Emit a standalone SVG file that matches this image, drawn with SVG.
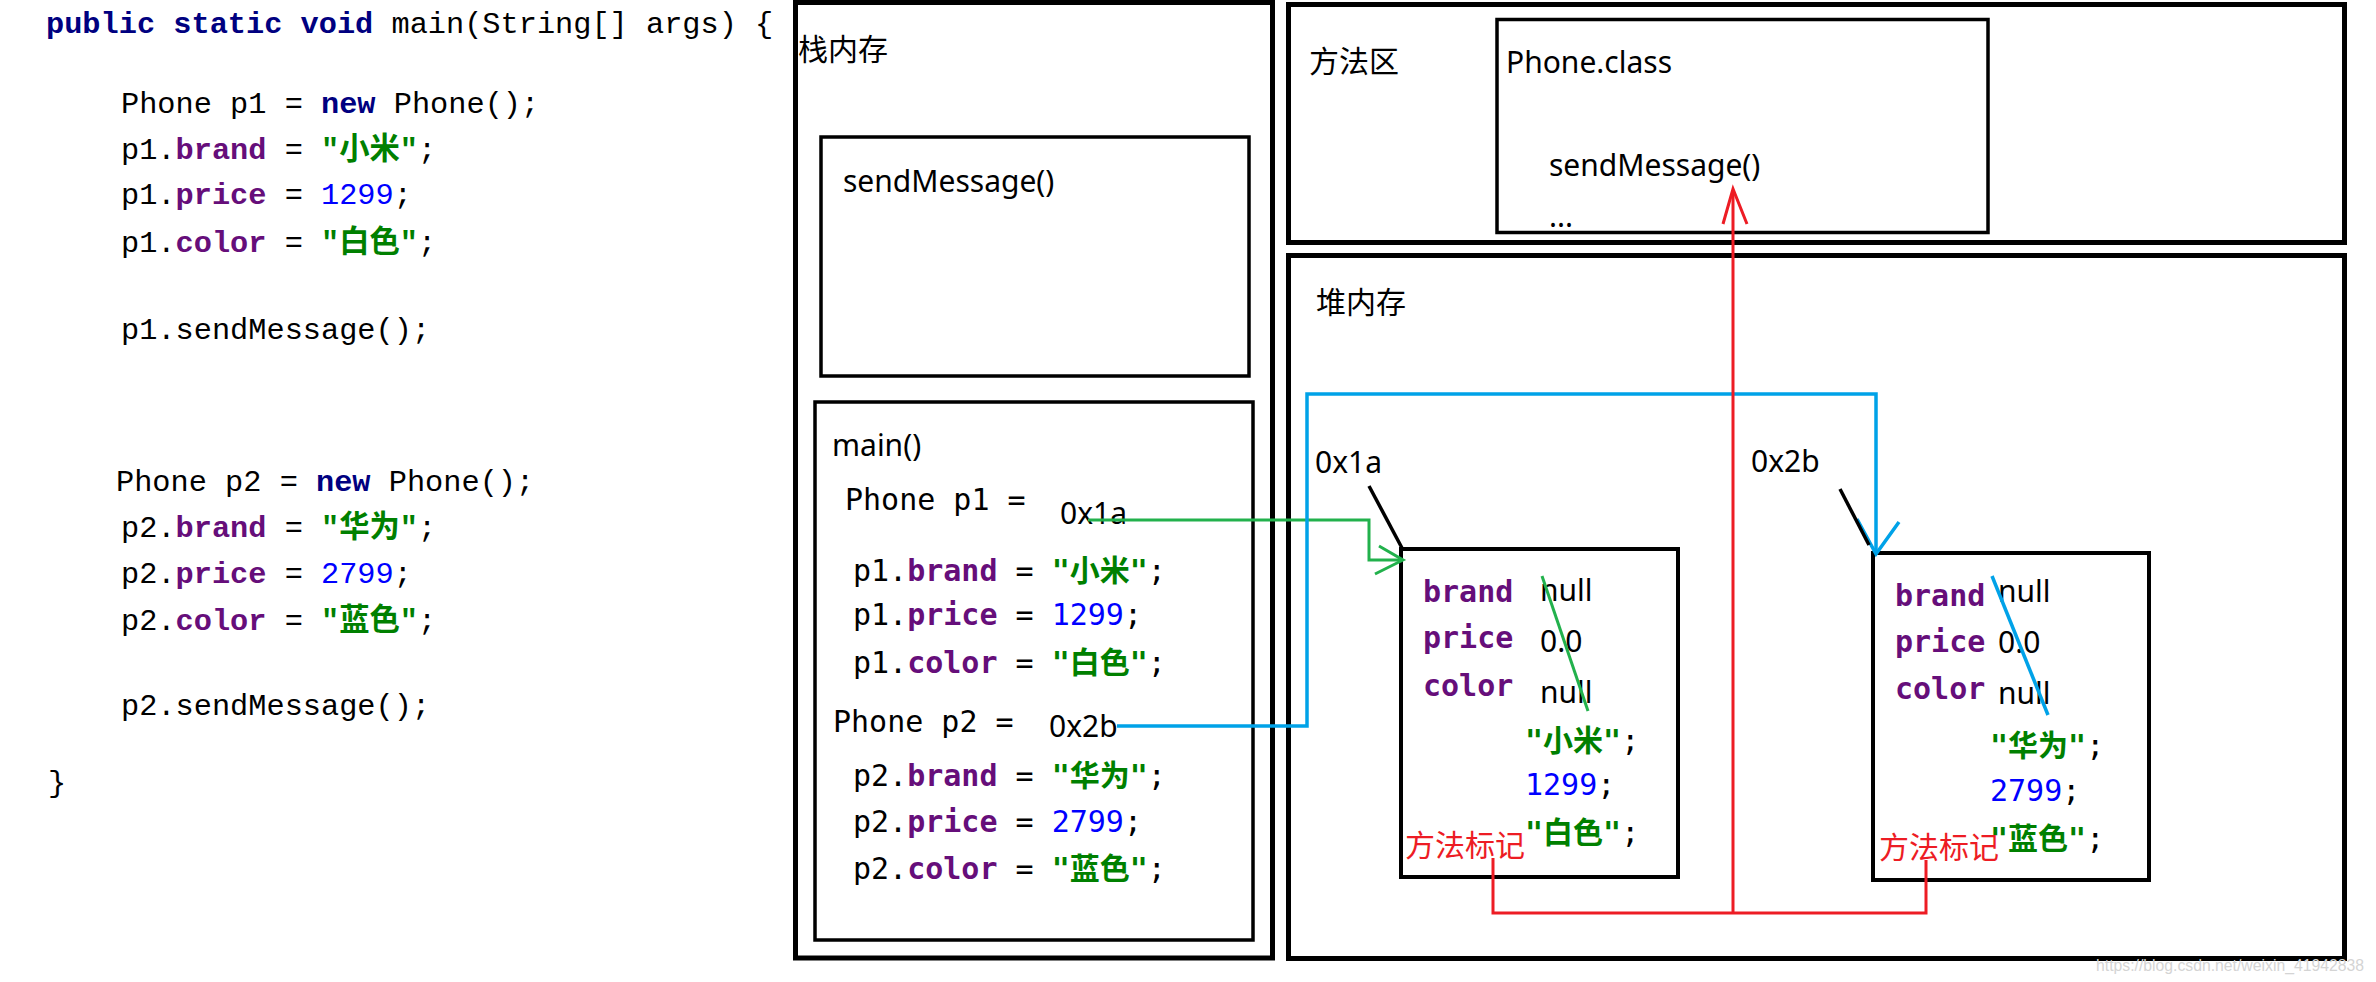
<svg xmlns="http://www.w3.org/2000/svg" width="2376" height="982" viewBox="0 0 2376 982">
<style>
.sans{font-family:"Noto Sans","Noto Sans CJK SC",sans-serif;font-size:30px;fill:#000}
.cjk{font-family:"Noto Sans CJK SC",sans-serif;font-size:30px;fill:#000}
.code{font-family:"Liberation Mono","Noto Sans CJK SC",monospace;font-size:30.3px;fill:#000}
.mono{font-family:"DejaVu Sans Mono","Noto Sans CJK SC",monospace;font-size:30px;fill:#000}
.kw{fill:#000080;font-weight:bold}
.fld{fill:#660E7A;font-weight:bold}
.str{fill:#008000;font-weight:bold}
.num{fill:#0000FF}
.red{fill:#ED1C24}
.frame{fill:none;stroke:#000;stroke-width:5}
.box{fill:none;stroke:#000;stroke-width:3.5}
.obj{fill:none;stroke:#000;stroke-width:4}
.g{fill:none;stroke:#22B14C;stroke-width:3}
.b{fill:none;stroke:#00A2E8;stroke-width:3.5}
.r{fill:none;stroke:#ED1C24;stroke-width:3}
.k{fill:none;stroke:#000;stroke-width:3.5}
</style>
<rect width="2376" height="982" fill="#fff"/>

<g id="code" xml:space="preserve">
<text class="code" x="46" y="33"><tspan class="kw">public static void</tspan> main(String[] args) {</text>
<text class="code" x="121" y="113">Phone p1 = <tspan class="kw">new</tspan> Phone();</text>
<text class="code" x="121" y="159">p1.<tspan class="fld">brand</tspan> = <tspan class="str">"小米"</tspan>;</text>
<text class="code" x="121" y="204">p1.<tspan class="fld">price</tspan> = <tspan class="num">1299</tspan>;</text>
<text class="code" x="121" y="252">p1.<tspan class="fld">color</tspan> = <tspan class="str">"白色"</tspan>;</text>
<text class="code" x="121" y="339">p1.sendMessage();</text>
<text class="code" x="116" y="491">Phone p2 = <tspan class="kw">new</tspan> Phone();</text>
<text class="code" x="121" y="537">p2.<tspan class="fld">brand</tspan> = <tspan class="str">"华为"</tspan>;</text>
<text class="code" x="121" y="583">p2.<tspan class="fld">price</tspan> = <tspan class="num">2799</tspan>;</text>
<text class="code" x="121" y="630">p2.<tspan class="fld">color</tspan> = <tspan class="str">"蓝色"</tspan>;</text>
<text class="code" x="121" y="715">p2.sendMessage();</text>
<text class="code" x="48" y="792">}</text>
</g>

<g id="stack">
<rect class="frame" x="795.5" y="2.5" width="477" height="955.5"/>
<text class="cjk" x="798" y="60">栈内存</text>
</g>

<g id="send-frame">
<rect class="box" x="821" y="137" width="428" height="239"/>
<text class="sans" x="843" y="192" font-size="31">sendMessage()</text>
</g>

<g id="main-frame" xml:space="preserve">
<rect class="box" x="815" y="402" width="438" height="538"/>
<text class="sans" x="832" y="456" font-size="31">main()</text>
<text class="mono" x="845" y="510">Phone p1 =</text>
<text class="sans" x="1060" y="524">0x1a</text>
<text class="mono" x="853" y="581">p1.<tspan class="fld">brand</tspan> = <tspan class="str">"小米"</tspan>;</text>
<text class="mono" x="853" y="625">p1.<tspan class="fld">price</tspan> = <tspan class="num">1299</tspan>;</text>
<text class="mono" x="853" y="673">p1.<tspan class="fld">color</tspan> = <tspan class="str">"白色"</tspan>;</text>
<text class="mono" x="833" y="732">Phone p2 =</text>
<text class="sans" x="1049" y="737">0x2b</text>
<text class="mono" x="853" y="786">p2.<tspan class="fld">brand</tspan> = <tspan class="str">"华为"</tspan>;</text>
<text class="mono" x="853" y="832">p2.<tspan class="fld">price</tspan> = <tspan class="num">2799</tspan>;</text>
<text class="mono" x="853" y="879">p2.<tspan class="fld">color</tspan> = <tspan class="str">"蓝色"</tspan>;</text>
</g>

<g id="method-area">
<rect class="frame" x="1288.5" y="4.5" width="1056" height="238"/>
<text class="cjk" x="1309" y="72">方法区</text>
</g>

<g id="phone-class">
<rect class="box" x="1497" y="19.5" width="491" height="213"/>
<text class="sans" x="1506" y="73">Phone.class</text>
<text class="sans" x="1549" y="176" font-size="31">sendMessage()</text>
<text class="sans" x="1549" y="227" font-size="20">...</text>
</g>

<g id="heap">
<rect class="frame" x="1288.5" y="255.5" width="1056" height="703"/>
<text class="cjk" x="1316" y="313">堆内存</text>
<text class="sans" x="1315" y="473">0x1a</text>
<text class="sans" x="1751" y="472">0x2b</text>
</g>

<g id="obj1">
<rect class="obj" x="1401" y="549" width="277" height="328"/>
<text class="mono fld" x="1423" y="602">brand</text>
<text class="mono fld" x="1423" y="648">price</text>
<text class="mono fld" x="1423" y="696">color</text>
<text class="sans" x="1540" y="601">null</text>
<text class="sans" x="1540" y="652">0.0</text>
<text class="sans" x="1540" y="703">null</text>
<text class="mono" x="1525" y="751"><tspan class="str">"小米"</tspan>;</text>
<text class="mono" x="1525" y="795"><tspan class="num">1299</tspan>;</text>
<text class="mono" x="1525" y="843"><tspan class="str">"白色"</tspan>;</text>
<text class="cjk red" x="1405" y="856">方法标记</text>
</g>

<g id="obj2">
<rect class="obj" x="1873" y="553" width="276" height="327"/>
<text class="mono fld" x="1895" y="606">brand</text>
<text class="mono fld" x="1895" y="652">price</text>
<text class="mono fld" x="1895" y="699">color</text>
<text class="sans" x="1998" y="602">null</text>
<text class="sans" x="1998" y="653">0.0</text>
<text class="sans" x="1998" y="704">null</text>
<text class="mono" x="1990" y="756"><tspan class="str">"华为"</tspan>;</text>
<text class="mono" x="1990" y="801"><tspan class="num">2799</tspan>;</text>
<text class="mono" x="1990" y="849"><tspan class="str">"蓝色"</tspan>;</text>
<text class="cjk red" x="1879" y="858">方法标记</text>
</g>

<g id="connectors">
<polyline class="g" points="1088,520 1369,520 1369,560 1402,560"/>
<polyline class="g" points="1379,546 1403,560 1375,574"/>
<line class="g" x1="1542" y1="576" x2="1588" y2="711" stroke-width="2.5"/>
<polyline class="b" points="1117,726 1307,726 1307,394 1876,394 1876,554"/>
<polyline class="b" points="1857,519 1876,554 1899,522"/>
<line class="b" x1="1992" y1="576" x2="2048" y2="715" stroke-width="3"/>
<polyline class="r" points="1493,858 1493,913 1926,913 1926,860"/>
<line class="r" x1="1733" y1="913" x2="1733" y2="190"/>
<polyline class="r" points="1723,224 1733,189 1747,224"/>
<line class="k" x1="1369" y1="486" x2="1402" y2="548"/>
<line class="k" x1="1840" y1="489" x2="1869" y2="545" stroke-width="4"/>
</g>

<text x="2096" y="971" font-family="Liberation Sans, sans-serif" font-size="16" textLength="268" lengthAdjust="spacingAndGlyphs" fill="#d4d4d4">https://blog.csdn.net/weixin_41942838</text>
</svg>
